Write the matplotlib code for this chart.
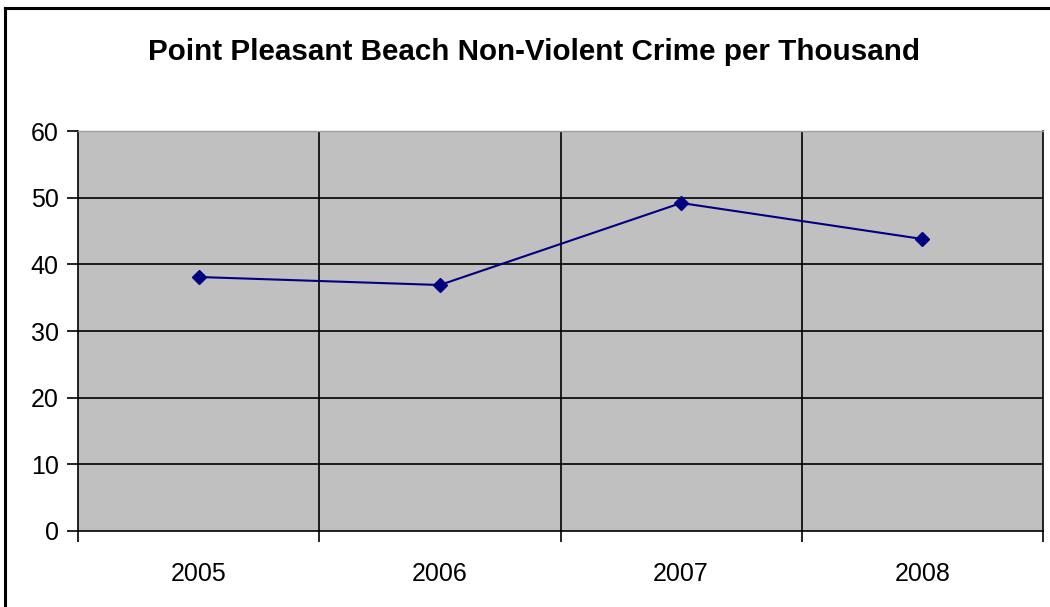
import numpy as np
import matplotlib
matplotlib.use("Agg")
import matplotlib.pyplot as plt
from matplotlib.lines import Line2D

plt.rcParams['font.family'] = ['Liberation Sans', 'DejaVu Sans']

years = ['2005', '2006', '2007', '2008']
crime_per_thousand = [38.1, 36.9, 49.2, 43.8]
title = 'Point Pleasant Beach Non-Violent Crime per Thousand'

fig = plt.figure(figsize=(10.5, 6.07), dpi=100)
ax = fig.add_axes([78 / 1050, 76 / 607, 965 / 1050, 400 / 607])
ax.set_facecolor('#C0C0C0')

x = np.arange(len(years))
ax.plot(x, crime_per_thousand, color='#000080', lw=1.5, marker='D',
        markersize=7, markerfacecolor='#000080', markeredgecolor='#000080',
        zorder=5, clip_on=False)

ax.set_xlim(-0.5, len(years) - 0.5)
ax.set_ylim(0, 60)
ax.set_yticks(np.arange(0, 61, 10))
ax.set_xticks(x)
ax.set_xticklabels(years)
ax.set_xticks(np.arange(-0.5, len(years), 1.0), minor=True)

# gridlines
for yv in range(10, 60, 10):
    ax.axhline(yv, color='black', lw=1.2, zorder=2)
for xv in np.arange(0.5, len(years) - 0.5, 1.0):
    ax.axvline(xv, color='black', lw=1.2, zorder=2)

ax.tick_params(axis='y', direction='out', length=8, width=1.2, labelsize=18, pad=6)
ax.tick_params(axis='x', which='major', length=0, labelsize=18, pad=22)
ax.tick_params(axis='x', which='minor', direction='out', length=8, width=1.2)

for side in ['left', 'bottom', 'right']:
    ax.spines[side].set_color('black')
    ax.spines[side].set_linewidth(1.2)
ax.spines['top'].set_color('#A0A0A0')
ax.spines['top'].set_linewidth(1.0)

fig.text(534 / 1050, 1 - 52 / 607, title, ha='center', va='center',
         fontsize=21.3, fontweight='bold')

# chart area border (only top and left visible)
fig.add_artist(Line2D([5 / 1050, 5 / 1050], [0, 1 - 8 / 607], color='black', lw=2.2,
                      transform=fig.transFigure))
fig.add_artist(Line2D([5 / 1050, 1], [1 - 8 / 607, 1 - 8 / 607], color='black', lw=2.2,
                      transform=fig.transFigure))

fig.savefig('out.png', dpi=100)
